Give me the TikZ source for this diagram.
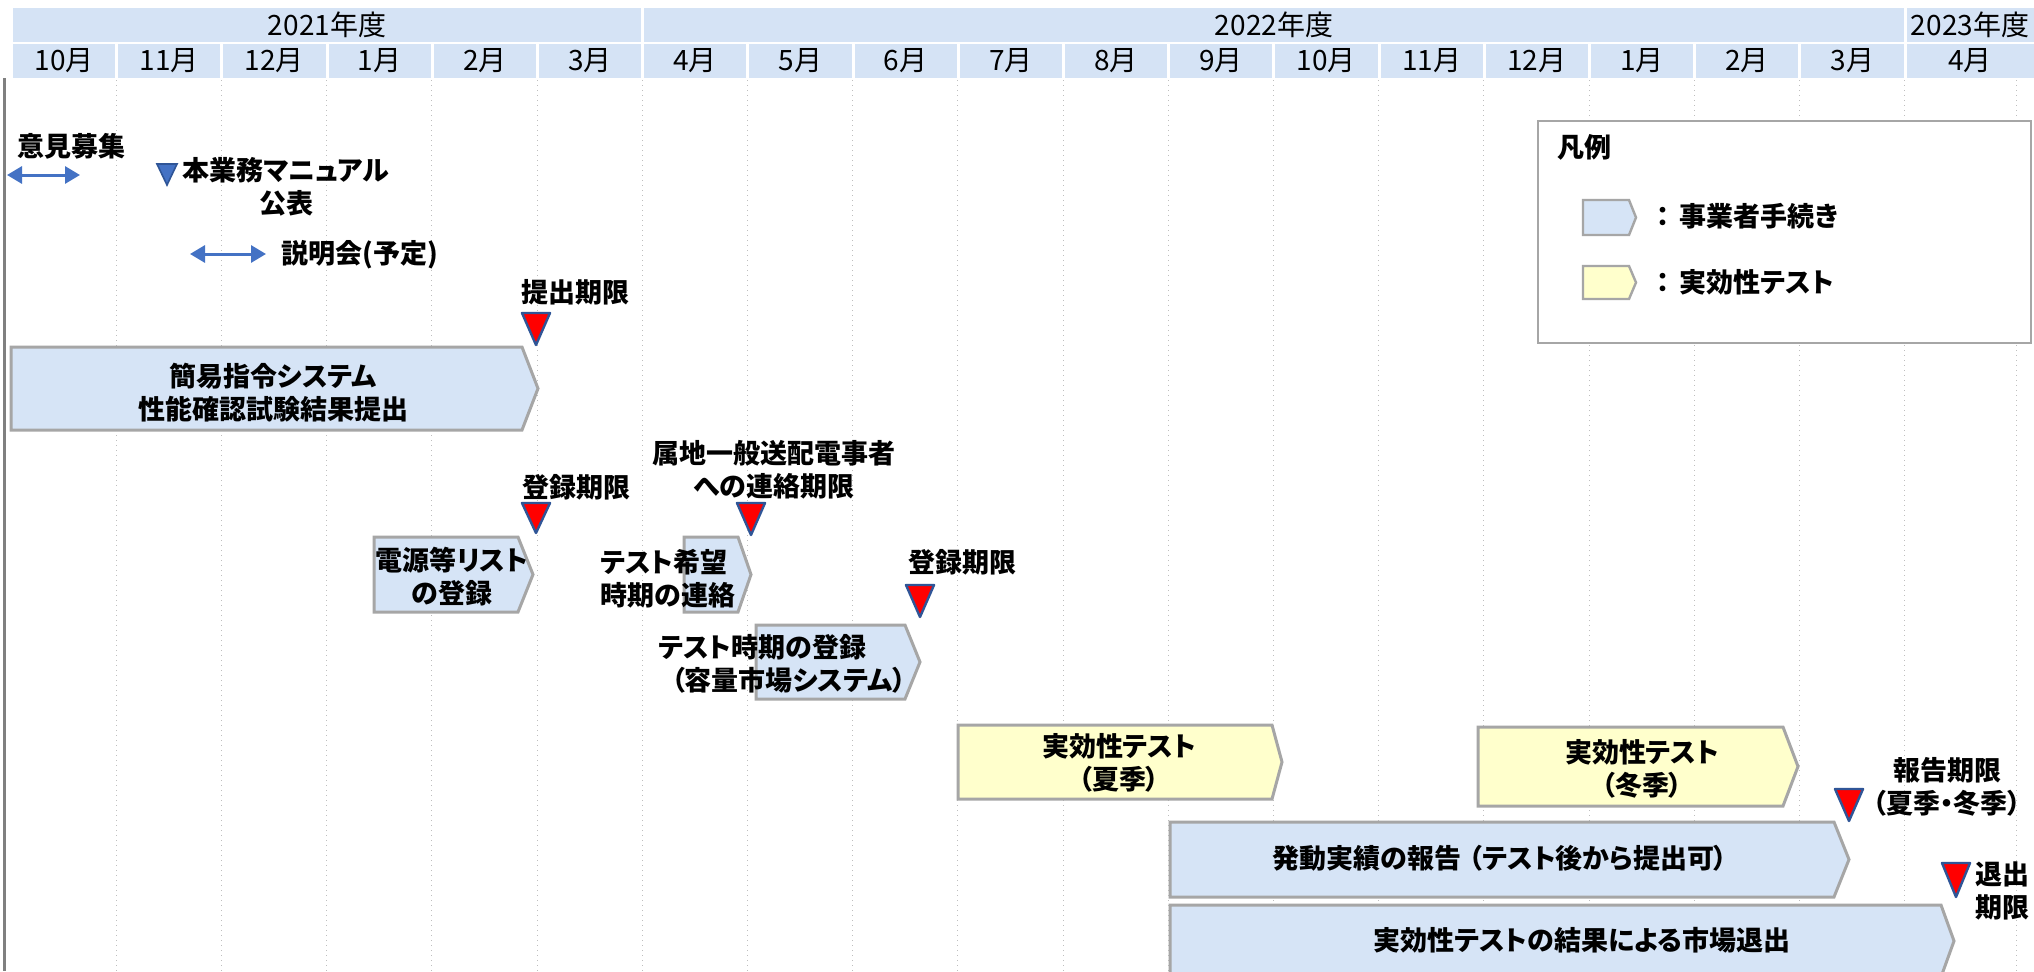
\documentclass[tikz,border=0pt]{standalone}
\usepackage{fontspec}
\setmainfont{Noto Sans CJK JP}[RawFeature=+palt]
\usetikzlibrary{arrows.meta}
\definecolor{hdr}{RGB}{213,227,245}
\definecolor{bfill}{RGB}{214,228,246}
\definecolor{yfill}{RGB}{255,255,204}
\definecolor{bord}{RGB}{166,166,166}
\definecolor{navy}{RGB}{47,85,151}
\definecolor{arrblue}{RGB}{68,114,196}
\definecolor{gridc}{RGB}{190,190,190}
\newcommand{\plate}[6]{%
  \draw[#1] (#2,#3) -- ({#4-#6},#3) -- (#4,{(#3+#5)/2}) -- ({#4-#6},#5) -- (#2,#5) -- cycle;}
\newcommand{\rtri}[3]{%
  \draw[redtri] ({#1-14},#2) -- ({#1+14},#2) -- (#1,#3) -- cycle;}
\tikzset{
  hlbl/.style={font=\fontsize{14}{16}\selectfont, inner sep=0pt},
  lbl/.style={font=\fontsize{13.5}{16.5}\selectfont\bfseries, inner sep=0pt, align=center},
  plateblue/.style={fill=bfill, draw=bord, line width=1.5pt},
  plateyellow/.style={fill=yfill, draw=bord, line width=1.5pt},
  legplateblue/.style={fill=bfill, draw=bord, line width=1.2pt},
  legplateyellow/.style={fill=yfill, draw=bord, line width=1.2pt},
  redtri/.style={fill=red, draw=navy, line width=1.2pt, line join=round},
  bluetri/.style={fill=arrblue, draw=navy, line width=0.8pt},
  dblarrow/.style={arrblue, line width=1.5pt,
    {Triangle[length=7.5pt,width=8.5pt]}-{Triangle[length=7.5pt,width=8.5pt]}},
  gridline/.style={gridc, dotted, line width=0.5pt},
}
\begin{document}
\begin{tikzpicture}[x=0.5pt,y=-0.5pt]
\useasboundingbox (0,0) rectangle (2034,971);
\fill[white] (0,0) rectangle (2034,971);
% grid lines
\foreach \i in {1,...,18} { \draw[gridline] ({13+105.2*\i-2},80) -- ({13+105.2*\i-2},971); }
\draw[gridline] (2016,80) -- (2016,971);
% left border
\draw[gray, line width=1.3pt] (4.5,78) -- (4.5,971);
% year row
\fill[hdr] (13,8) rectangle (641,42);
\fill[hdr] (644,8) rectangle (1904,42);
\fill[hdr] (1907,8) rectangle (2034,42);
\node[hlbl] (y2021) at (327,25) {2021年度};
\node[hlbl] (y2022) at (1274,25) {2022年度};
\node[hlbl] (y2023) at (1970,25) {2023年度};
% month row
\foreach \i/\m in {0/10,1/11,2/12,3/1,4/2,5/3,6/4,7/5,8/6,9/7,10/8,11/9,12/10,13/11,14/12,15/1,16/2,17/3} {
  \fill[hdr] ({13+105.2*\i},44) rectangle ({13+105.2*(\i+1)-3},78);
  \node[hlbl] (m\i) at ({13+105.2*\i+51},61) {\m 月};
}
\fill[hdr] (1907,44) rectangle (2034,78);
\node[hlbl] (m18) at (1970,61) {4月};
% legend
\draw[bord, line width=1pt, fill=white] (1538,121) rectangle (2031,343);
\node[lbl, anchor=west] (leg) at (1557,147) {凡例};
\plate{legplateblue}{1583}{200}{1636}{235}{7}
\plate{legplateyellow}{1583}{266}{1636}{299}{7}
\node[lbl, anchor=west] (leg1) at (1656,216) {：\hspace{5pt}事業者手続き};
\node[lbl, anchor=west] (leg2) at (1656,282) {：\hspace{5pt}実効性テスト};
% top annotations
\node[lbl] (iken) at (72,146) {意見募集};
\coordinate (a1s) at (7,175);
\coordinate (a1e) at (80,175);
\draw[dblarrow] (a1s) -- (a1e);
\draw[bluetri] (157,164) -- (177,164) -- (167,185) -- cycle;
\node[lbl] (manual) at (286,187) {本業務マニュアル\\公表};
\coordinate (a2s) at (190,254);
\coordinate (a2e) at (266,254);
\draw[dblarrow] (a2s) -- (a2e);
\node[lbl] (setsumei) at (360,255) {説明会(予定)};
% boxes
\plate{plateblue}{11}{347}{538}{430}{16}
\node[lbl] (kani) at (273,393) {簡易指令システム\\性能確認試験結果提出};
\node[lbl] (teishutsu) at (575,292) {提出期限};
\rtri{536}{313}{345}
\node[lbl] (toroku1) at (576,487) {登録期限};
\rtri{536}{503}{533}
\plate{plateblue}{374}{537}{533}{612}{15}
\node[lbl] (dengen) at (452,577) {電源等リスト\\の登録};
\node[lbl] (zokuchi) at (774,470) {属地一般送配電事者\\への連絡期限};
\rtri{751}{503}{535}
\plate{plateblue}{684}{537}{751}{612}{13}
\node[lbl, anchor=west, align=left] (kibou) at (600,579) {テスト希望\\時期の連絡};
\node[lbl] (toroku2) at (962,562) {登録期限};
\rtri{920}{585}{617}
\plate{plateblue}{756}{625}{920}{699}{15}
\node[lbl, anchor=west, align=left] (jiki) at (658,664) {テスト時期の登録\\\hspace*{6.5pt}（容量市場システム）};
\plate{plateyellow}{958}{725}{1282}{799}{10}
\node[lbl] (summer) at (1119,763) {実効性テスト\\（夏季）};
\plate{plateyellow}{1478}{727}{1798}{806}{15}
\node[lbl] (winter) at (1642,769) {実効性テスト\\（冬季）};
\plate{plateblue}{1170}{822}{1849}{897}{15}
\node[lbl] (hatsudo) at (1500,858) {発動実績の報告\hspace{4pt}（テスト後から提出可）};
\plate{plateblue}{1170}{905}{1954}{977}{13}
\node[lbl] (taishutsu) at (1582,940) {実効性テストの結果による市場退出};
\node[lbl] (houkoku) at (1947,787) {報告期限\\（夏季・冬季）};
\rtri{1849}{789}{821}
\rtri{1956}{863}{897}
\node[lbl, anchor=west, align=left] (taishutsukigen) at (1975,891) {退出\\期限};
\end{tikzpicture}
\end{document}
